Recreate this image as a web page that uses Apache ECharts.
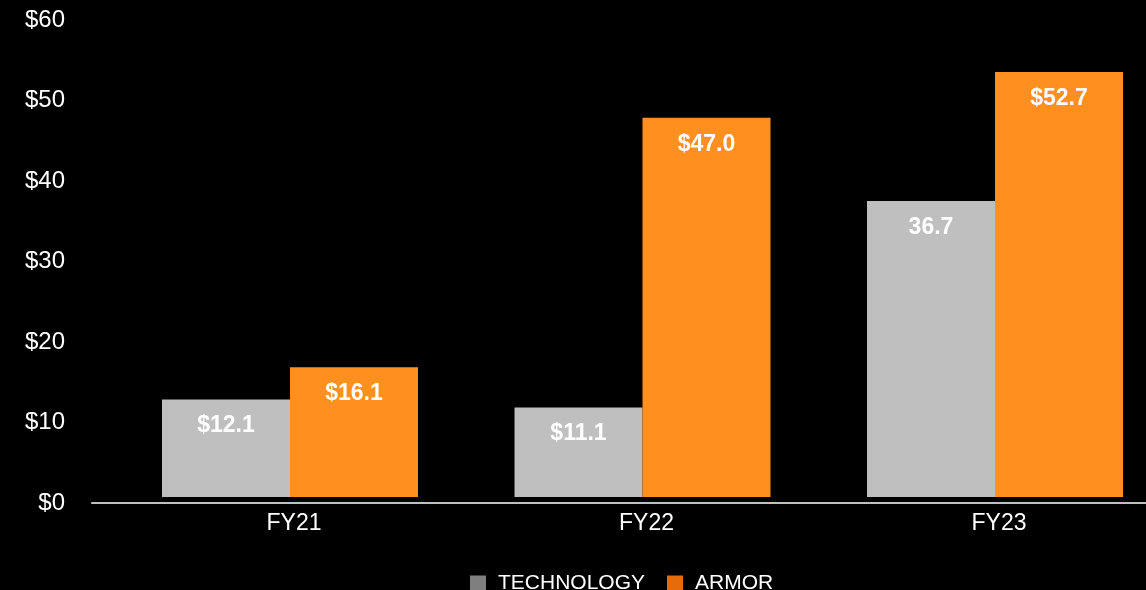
<!DOCTYPE html>
<html>
<head>
<meta charset="utf-8">
<style>
html,body{margin:0;padding:0;background:#000;}
#chart{width:1146px;height:590px;}
</style>
<script src="https://cdn.jsdelivr.net/npm/echarts@6/dist/echarts.min.js"></script>
</head>
<body>
<div id="chart"></div>
<script>
const categories = ['FY21', 'FY22', 'FY23'];
const technology = [12.1, 11.1, 36.7];
const armor = [16.1, 47.0, 52.7];
const techPrefix = ['$', '$', ''];
const armorPrefix = ['$', '$', '$'];
const yTicks = [0, 10, 20, 30, 40, 50, 60];

const chart = echarts.init(document.getElementById('chart'));
const FONT = '"Liberation Sans", Arial, sans-serif';
const labelStyle = (prefix) => ({
  show: true,
  position: 'insideTop',
  distance: 15,
  color: '#ffffff',
  fontWeight: 'bold',
  fontSize: 23,
  fontFamily: FONT,
  formatter: (p) => prefix[p.dataIndex] + p.value.toFixed(1)
});

chart.setOption({
  backgroundColor: '#000000',
  animation: false,
  grid: [
    {left: 113.75, width: 1057.5, top: 13, height: 484, outerBoundsMode: 'none', containLabel: false},
    {left: 92, right: 0, top: 20, height: 483, outerBoundsMode: 'none', containLabel: false}
  ],
  legend: {
    left: 465,
    top: 568,
    itemWidth: 16,
    itemHeight: 16,
    itemGap: 22,
    icon: 'rect',
    textStyle: {color: '#ffffff', fontSize: 21, fontFamily: FONT, padding: [0, 0, 0, 7]},
    data: [
      {name: 'TECHNOLOGY', itemStyle: {color: '#7f7f7f'}},
      {name: 'ARMOR', itemStyle: {color: '#e46c0a'}}
    ]
  },
  xAxis: [
    {
      type: 'category',
      gridIndex: 0,
      data: categories,
      axisLine: {show: false},
      axisTick: {show: false},
      axisLabel: {color: '#ffffff', fontSize: 23, fontFamily: FONT, margin: 15, padding: [0, 0, 0, 8]}
    },
    {
      type: 'value',
      gridIndex: 1,
      min: 0,
      max: 1,
      axisLine: {show: true, lineStyle: {color: '#bfbfbf', width: 2}},
      axisTick: {show: false},
      axisLabel: {show: false},
      splitLine: {show: false}
    }
  ],
  yAxis: [
    {
      type: 'value',
      gridIndex: 0,
      min: yTicks[0],
      max: yTicks[yTicks.length - 1],
      interval: 10,
      show: false
    },
    {
      type: 'value',
      gridIndex: 1,
      min: yTicks[0],
      max: yTicks[yTicks.length - 1],
      interval: 10,
      axisLine: {show: false},
      axisTick: {show: false},
      splitLine: {show: false},
      axisLabel: {color: '#ffffff', fontSize: 24, fontFamily: FONT, margin: 27, formatter: '${value}'}
    }
  ],
  series: [
    {
      name: 'TECHNOLOGY',
      type: 'bar',
      xAxisIndex: 0,
      yAxisIndex: 0,
      data: technology,
      barWidth: 128,
      barGap: '0%',
      itemStyle: {color: '#bfbfbf'},
      label: labelStyle(techPrefix)
    },
    {
      name: 'ARMOR',
      type: 'bar',
      xAxisIndex: 0,
      yAxisIndex: 0,
      data: armor,
      barWidth: 128,
      barGap: '0%',
      itemStyle: {color: '#ff8f1f'},
      label: labelStyle(armorPrefix)
    }
  ]
});
</script>
</body>
</html>
